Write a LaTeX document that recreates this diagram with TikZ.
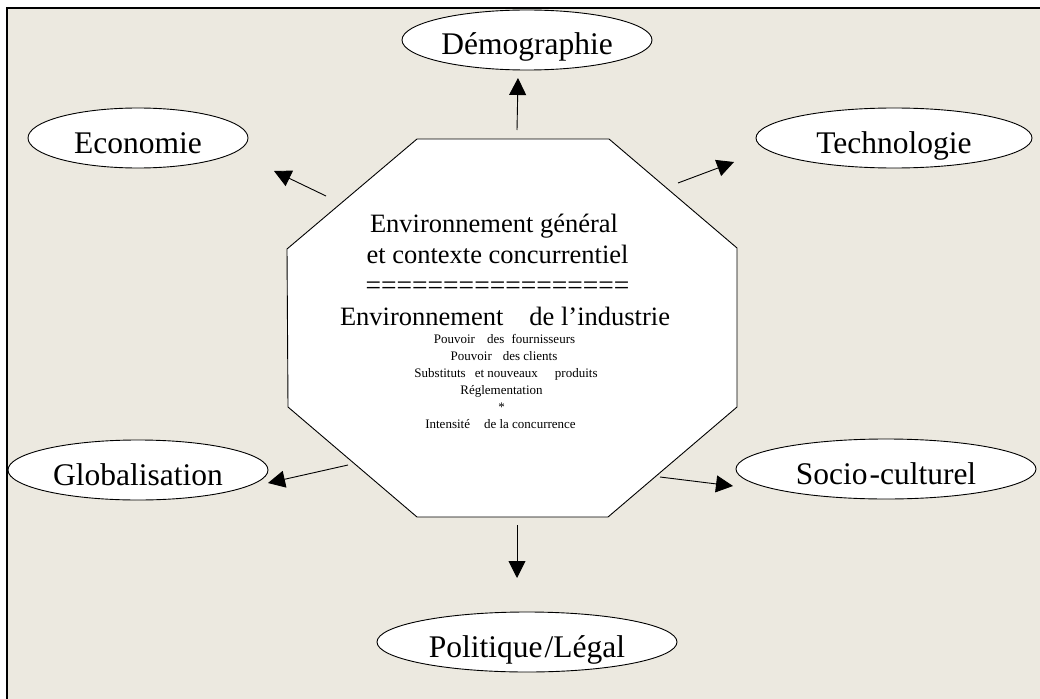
\documentclass[tikz,border=0pt]{standalone}
\usepackage{fontspec}
\setmainfont{Liberation Serif}
\usetikzlibrary{shapes.geometric,arrows.meta}
\definecolor{bgbeige}{RGB}{236,233,224}
\tikzset{
  bubble/.style={ellipse, draw=black, line width=0.9pt, fill=white, inner sep=0pt, font=\fontsize{31.5}{34}\selectfont},
  arr/.style={line width=0.9pt, -{Triangle[length=17pt,width=17pt]}},
  bigline/.style={anchor=base, inner sep=0pt, font=\fontsize{26.5}{30}\selectfont},
  smallline/.style={anchor=base, inner sep=0pt, font=\fontsize{13}{15}\selectfont},
}
\newcommand{\lowr}[1]{\raisebox{-15pt}[0pt][0pt]{#1}}
\begin{document}
\begin{tikzpicture}[x=1pt,y=-1pt]
\useasboundingbox (0,0) rectangle (1040,698);
\fill[white] (0,0) rectangle (1040,698);
\draw[line width=1.6pt, fill=bgbeige] (7,8) rectangle (1050,710);
% octagon
\coordinate (o1) at (417,139);
\coordinate (o2) at (609,139);
\coordinate (o3) at (737,248);
\coordinate (o4) at (737,407);
\coordinate (o5) at (608,517);
\coordinate (o6) at (417,517);
\coordinate (o7) at (288,407);
\coordinate (o8) at (287,249);
\draw[line width=0.9pt, fill=white] (o1) -- (o2) -- (o3) -- (o4) -- (o5) -- (o6) -- (o7) -- (o8) -- cycle;
% centre texts
\node[bigline] (c1) at (494,232) {Environnement général};
\node[bigline] (c2) at (497.5,263) {et contexte concurrentiel};
\node[bigline, font=\fontsize{27.5}{30}\selectfont] (c3) at (497.5,294) {=================};
\node[bigline] (c4) at (505,325) {Environnement\hspace{26pt}de l’industrie};
\node[smallline] (c5) at (504.5,343) {Pouvoir\hspace{12pt}des\hspace{4pt} fournisseurs};
\node[smallline] (c6) at (504,360) {Pouvoir\hspace{11pt}des clients};
\node[smallline] (c7) at (506,377) {Substituts\hspace{9pt}et nouveaux\hspace{17pt}produits};
\node[smallline] (c8) at (501.5,394) {Réglementation};
\node[smallline] (c9) at (501.5,411) {*};
\node[smallline] (c10) at (500.5,428) {Intensité\hspace{14pt}de la concurrence};
% ellipses
\node[bubble, minimum width=250pt, minimum height=60pt] (demo) at (527,40) {\lowr{Démographie}};
\node[bubble, minimum width=220pt, minimum height=60pt] (eco) at (138,138) {\lowr{Economie}};
\node[bubble, minimum width=276pt, minimum height=60pt] (tech) at (894,138) {\lowr{Technologie}};
\node[bubble, minimum width=260pt, minimum height=60pt] (glob) at (138,470) {\lowr{Globalisation}};
\node[bubble, minimum width=300pt, minimum height=60pt] (socio) at (886,469) {\lowr{Socio\hspace{2pt}-culturel}};
\node[bubble, minimum width=300pt, minimum height=60pt] (poli) at (527,642) {\lowr{Politique\hspace{2pt}/Légal}};
% arrow ends
\coordinate (sEco) at (326,196);   \coordinate (tEco) at (274,171);
\coordinate (sDemo) at (517,130);  \coordinate (tDemo) at (518,78);
\coordinate (sTech) at (678,183);  \coordinate (tTech) at (734,162);
\coordinate (sGlob) at (348,465);  \coordinate (tGlob) at (268,483);
\coordinate (sSocio) at (660,477); \coordinate (tSocio) at (733,486);
\coordinate (sPoli) at (517,525);  \coordinate (tPoli) at (517,578);
\draw[arr] (sEco) -- (tEco);
\draw[arr] (sDemo) -- (tDemo);
\draw[arr] (sTech) -- (tTech);
\draw[arr] (sGlob) -- (tGlob);
\draw[arr] (sSocio) -- (tSocio);
\draw[arr] (sPoli) -- (tPoli);
\end{tikzpicture}
\end{document}
